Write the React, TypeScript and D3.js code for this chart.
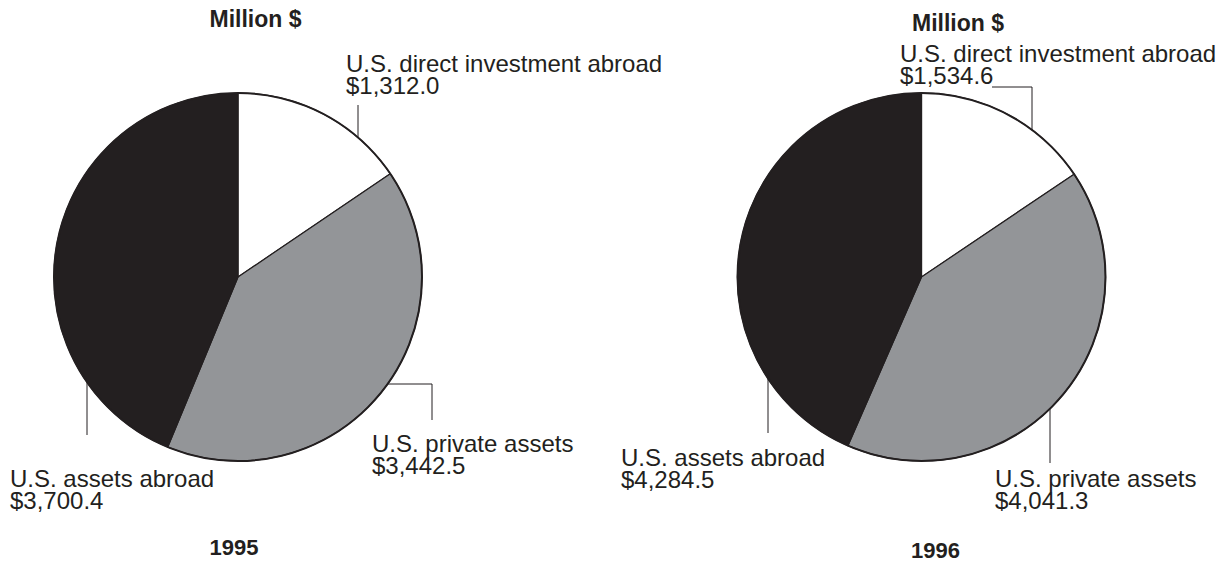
import React from "react";
import * as d3 from "d3";

const categories = ["U.S. direct investment abroad", "U.S. private assets", "U.S. assets abroad"];
const years = ["1995", "1996"];
const values1995 = [1312.0, 3442.5, 3700.4];
const values1996 = [1534.6, 4041.3, 4284.5];
const unitLabel = "Million $";
const sliceColors = ["#ffffff", "#939598", "#231f20"];

const W = 1230;
const H = 565;
const R = 184;
const INK = "#231f20";

type Leader = { kind: "vdown" | "vup" | "hv" | "hvTop"; x: number; y?: number; x2?: number; y2?: number };
type LabelLayout = { x: number; y: number; leader: Leader };
type PieLayout = {
  cx: number;
  cy: number;
  unitX: number;
  unitY: number;
  yearX: number;
  yearY: number;
  labels: LabelLayout[];
};

const layouts: PieLayout[] = [
  {
    cx: 238,
    cy: 277,
    unitX: 255.5,
    unitY: 27,
    yearX: 234,
    yearY: 555,
    labels: [
      { x: 346, y: 72, leader: { kind: "vup", x: 358, y: 105 } },
      { x: 372, y: 452, leader: { kind: "hv", x: 432, y: 384, y2: 420 } },
      { x: 10, y: 487, leader: { kind: "vdown", x: 87, y: 435 } },
    ],
  },
  {
    cx: 921.5,
    cy: 277,
    unitX: 958,
    unitY: 31,
    yearX: 935.5,
    yearY: 558,
    labels: [
      { x: 900, y: 62, leader: { kind: "hvTop", x: 1032, y: 87, x2: 992 } },
      { x: 995, y: 487, leader: { kind: "vdown", x: 1050, y: 463 } },
      { x: 621, y: 466, leader: { kind: "vdown", x: 768, y: 433 } },
    ],
  },
];

const fmt = (v: number) => "$" + d3.format(",.1f")(v);

function leaderPath(l: Leader, cx: number, cy: number): string {
  const circleY = (x: number, top: boolean) => {
    const dx = x - cx;
    const dy = Math.sqrt(Math.max(0, R * R - dx * dx));
    return top ? cy - dy : cy + dy;
  };
  const circleX = (y: number, right: boolean) => {
    const dy = y - cy;
    const dx = Math.sqrt(Math.max(0, R * R - dy * dy));
    return right ? cx + dx : cx - dx;
  };
  const p = d3.path();
  if (l.kind === "vup") {
    p.moveTo(l.x, l.y!);
    p.lineTo(l.x, circleY(l.x, true));
  } else if (l.kind === "vdown") {
    p.moveTo(l.x, circleY(l.x, false));
    p.lineTo(l.x, l.y!);
  } else if (l.kind === "hv") {
    p.moveTo(circleX(l.y!, l.x > cx), l.y!);
    p.lineTo(l.x, l.y!);
    p.lineTo(l.x, l.y2!);
  } else {
    p.moveTo(l.x2!, l.y!);
    p.lineTo(l.x, l.y!);
    p.lineTo(l.x, circleY(l.x, true));
  }
  return p.toString();
}

function Pie({ values, year, layout }: { values: number[]; year: string; layout: PieLayout }) {
  const pie = d3.pie<number>().sort(null).value((d) => d).startAngle(0).endAngle(2 * Math.PI);
  const arcs = pie(values);
  const arc = d3.arc<d3.PieArcDatum<number>>().innerRadius(0).outerRadius(R);
  const { cx, cy } = layout;
  return (
    <g>
      <text x={layout.unitX} y={layout.unitY} textAnchor="middle" fontWeight="bold" fontSize={23} fill={INK}>
        {unitLabel}
      </text>
      <g transform={`translate(${cx},${cy})`}>
        {arcs.map((a, i) => (
          <path key={i} d={arc(a) || ""} fill={sliceColors[i]} stroke={INK} strokeWidth={1.2} strokeLinejoin="round" />
        ))}
        <circle r={R} fill="none" stroke={INK} strokeWidth={2} />
      </g>
      {layout.labels.map((lab, i) => (
        <g key={i}>
          <path d={leaderPath(lab.leader, cx, cy)} fill="none" stroke={INK} strokeWidth={1} />
          <text x={lab.x} y={lab.y} fontSize={24} fill={INK}>
            <tspan x={lab.x} y={lab.y}>{categories[i]}</tspan>
            <tspan x={lab.x} y={lab.y + 22}>{fmt(values[i])}</tspan>
          </text>
        </g>
      ))}
      <text x={layout.yearX} y={layout.yearY} textAnchor="middle" fontWeight="bold" fontSize={22} fill={INK}>
        {year}
      </text>
    </g>
  );
}

export default function App() {
  const data = [values1995, values1996];
  return (
    <svg
      width={W}
      height={H}
      viewBox={`0 0 ${W} ${H}`}
      style={{ position: "absolute", left: 0, top: 0, background: "#fff" }}
      fontFamily="'Liberation Sans', Arial, Helvetica, sans-serif"
    >
      <rect width={W} height={H} fill="#fff" />
      {years.map((y, i) => (
        <Pie key={y} values={data[i]} year={y} layout={layouts[i]} />
      ))}
    </svg>
  );
}
